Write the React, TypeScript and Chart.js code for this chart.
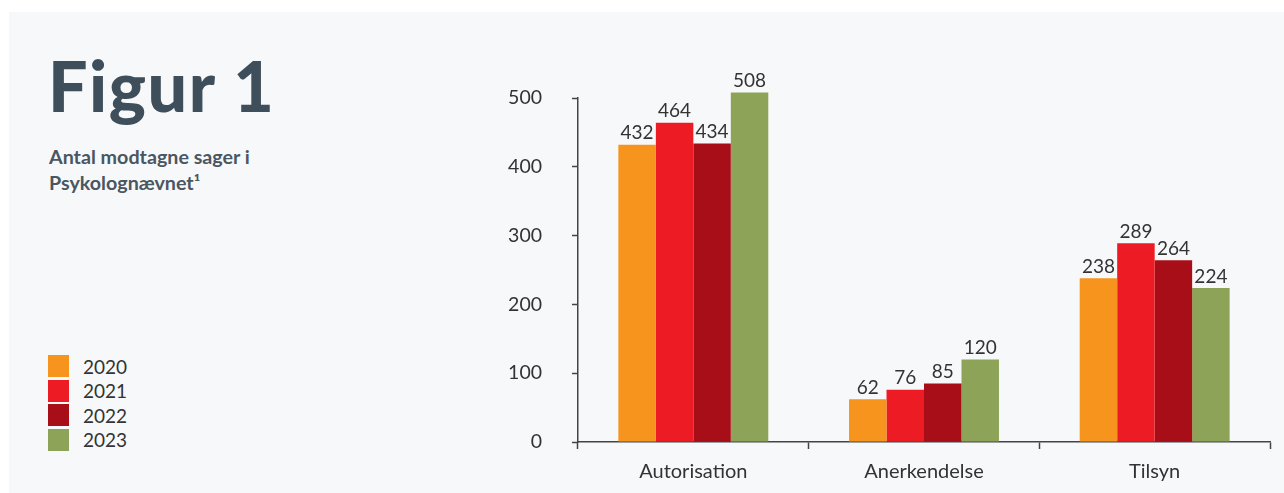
import React, { useEffect, useRef } from "react";
import { Chart, registerables } from "chart.js";

Chart.register(...registerables);

const categories = ["Autorisation", "Anerkendelse", "Tilsyn"];
const years = ["2020", "2021", "2022", "2023"];
const values2020 = [432, 62, 238];
const values2021 = [464, 76, 289];
const values2022 = [434, 85, 264];
const values2023 = [508, 120, 224];
const seriesValues = [values2020, values2021, values2022, values2023];
const colors = ["#f7941d", "#ed1c24", "#a80e17", "#8da357"];
const yTicks = [0, 100, 200, 300, 400, 500];

const FONT = "Lato, 'Noto Sans', sans-serif";

const valueLabels = {
  id: "valueLabels",
  afterDatasetsDraw(chart: any) {
    const ctx = chart.ctx;
    ctx.save();
    ctx.font = `19px ${FONT}`;
    ctx.fillStyle = "#333333";
    ctx.textAlign = "center";
    ctx.textBaseline = "bottom";
    chart.data.datasets.forEach((ds: any, i: number) => {
      const meta = chart.getDatasetMeta(i);
      meta.data.forEach((el: any, j: number) => {
        ctx.fillText(String(ds.data[j]), el.x, el.y - 2);
      });
    });
    ctx.restore();
  },
};

export default function App() {
  const ref = useRef<HTMLCanvasElement | null>(null);

  useEffect(() => {
    if (!ref.current) return;
    const chart = new Chart(ref.current, {
      type: "bar",
      data: {
        labels: categories,
        datasets: years.map((y, i) => ({
          label: y,
          data: seriesValues[i],
          backgroundColor: colors[i],
          borderWidth: 0,
          categoryPercentage: 0.65,
          barPercentage: 1,
          clip: false as any,
        })),
      },
      options: {
        animation: false,
        responsive: false,
        maintainAspectRatio: false,
        devicePixelRatio: 1,
        layout: { padding: { left: 0, right: 14, top: 38, bottom: 0 } },
        plugins: {
          legend: { display: false },
          tooltip: { enabled: false },
        },
        scales: {
          x: {
            offset: true,
            grid: {
              offset: true,
              drawOnChartArea: false,
              drawTicks: true,
              tickLength: 7,
              tickColor: "#444444",
              tickWidth: 1.5,
            },
            border: { display: true, color: "#444444", width: 1.5 },
            ticks: {
              color: "#333333",
              font: { family: FONT, size: 20 },
              padding: 11,
            },
            afterFit(scale: any) {
              scale.height = 51;
              scale.paddingLeft = 0;
              scale.paddingRight = 0;
            },
          },
          y: {
            min: 0,
            max: 500,
            afterBuildTicks(scale: any) {
              scale.ticks = yTicks.map((v) => ({ value: v }));
            },
            grid: {
              drawOnChartArea: false,
              drawTicks: true,
              tickLength: 6,
              tickColor: "#444444",
              tickWidth: 1.5,
            },
            border: { display: true, color: "#444444", width: 1.5 },
            ticks: {
              color: "#333333",
              font: { family: FONT, size: 19.5 },
              padding: 30,
            },
            afterFit(scale: any) {
              scale.width = 98;
              scale.paddingTop = 0;
              scale.paddingBottom = 0;
            },
          },
        },
      },
      plugins: [valueLabels],
    });
    return () => chart.destroy();
  }, []);

  return (
    <div
      style={{
        position: "fixed",
        left: 0,
        top: 0,
        width: 1284,
        height: 493,
        background: "#ffffff",
        overflow: "hidden",
      }}
    >
      <div
        style={{
          position: "absolute",
          left: 9,
          top: 12,
          width: 1275,
          height: 481,
          background: "#f7f8fa",
        }}
      />
      <div
        style={{
          position: "absolute",
          left: 48,
          top: 40,
          fontFamily: FONT,
          fontWeight: 900,
          fontSize: 70,
          lineHeight: "90px",
          color: "#3e4e5a",
          letterSpacing: 1.5,
          whiteSpace: "nowrap",
        }}
      >
        Figur 1
      </div>
      <div
        style={{
          position: "absolute",
          left: 49,
          top: 144,
          fontFamily: FONT,
          fontWeight: 700,
          fontSize: 19.7,
          lineHeight: "26px",
          color: "#4a5661",
          whiteSpace: "nowrap",
        }}
      >
        Antal modtagne sager i
        <br />
        Psykolognævnet¹
      </div>
      <div style={{ position: "absolute", left: 48, top: 354 }}>
        {years.map((y, i) => (
          <div
            key={y}
            style={{
              display: "flex",
              alignItems: "center",
              height: 24.5,
            }}
          >
            <div
              style={{
                width: 21,
                height: 22,
                background: colors[i],
                marginRight: 14,
              }}
            />
            <span
              style={{
                fontFamily: FONT,
                fontSize: 19,
                color: "#333333",
              }}
            >
              {y}
            </span>
          </div>
        ))}
      </div>
      <canvas
        ref={ref}
        width={804}
        height={433}
        style={{ position: "absolute", left: 480, top: 60, width: 804, height: 433 }}
      />
    </div>
  );
}
